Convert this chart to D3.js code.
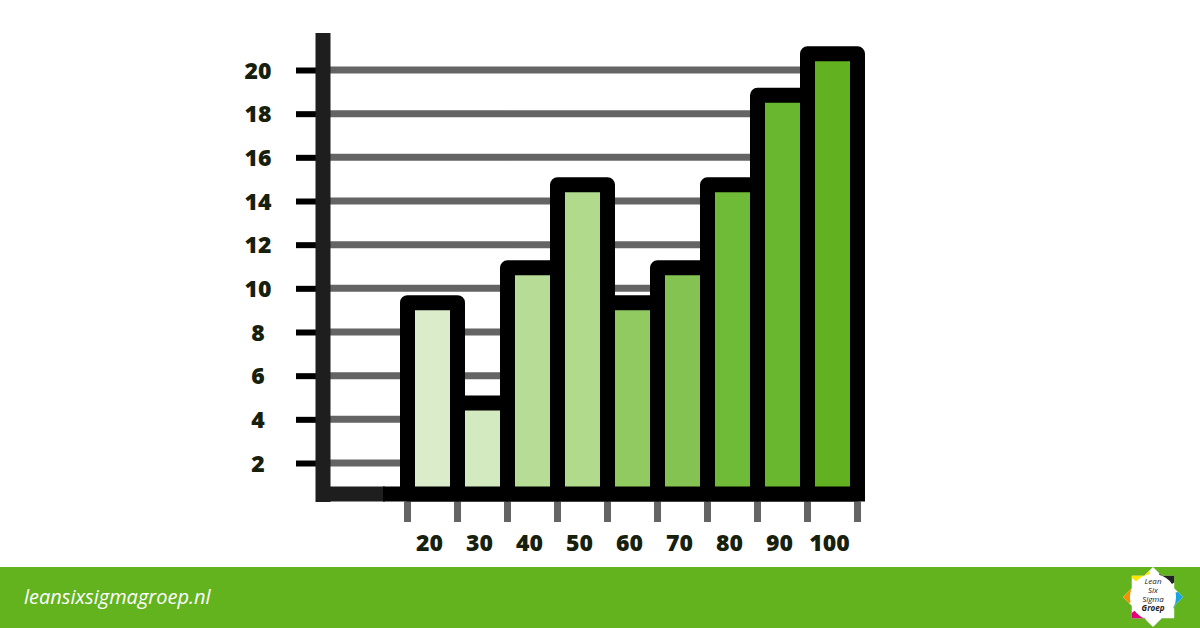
<!DOCTYPE html>
<html>
<head>
<meta charset="utf-8">
<script src="https://cdn.jsdelivr.net/npm/d3@7"></script>
<style>
  html, body { margin: 0; padding: 0; background: #fff; }
  svg { display: block; }
</style>
</head>
<body>
<div id="chart"></div>
<script>
const width = 1200;
const height = 628;

// data
const categories = ["20", "30", "40", "50", "60", "70", "80", "90", "100"];
const values = [9, 4.4, 10.6, 14.4, 9, 10.6, 14.4, 18.5, 20.4];
const barColors = ["#dbeccb", "#d3e9bf", "#b7dc95", "#b1da8c", "#92ca62", "#84c351", "#6fba37", "#69b72e", "#61b120"];
const yTicks = [2, 4, 6, 8, 10, 12, 14, 16, 18, 20];

const svg = d3.select("#chart")
  .append("svg")
  .attr("width", width)
  .attr("height", height);

const baseY = 494;
const stroke = 15;

const yScale = d3.scaleLinear()
  .domain([2, 20])
  .range([463, 70]);

const xScale = d3.scaleBand()
  .domain(categories)
  .range([407.5, 857.5])
  .padding(0);

// gridlines
svg.append("g")
  .selectAll("line")
  .data(yTicks)
  .enter()
  .append("line")
  .attr("x1", 327)
  .attr("x2", 858)
  .attr("y1", d => yScale(d))
  .attr("y2", d => yScale(d))
  .attr("stroke", "#646464")
  .attr("stroke-width", 7)
  .attr("stroke-linecap", "round");

// y axis: ticks + labels
const yAxis = d3.axisLeft(yScale)
  .tickValues(yTicks)
  .tickSize(22)
  .tickPadding(0)
  .tickFormat(d3.format("d"));

const yg = svg.append("g")
  .attr("transform", "translate(318,0)")
  .call(yAxis);
yg.select(".domain").remove();
yg.selectAll(".tick line")
  .attr("stroke", "#000")
  .attr("stroke-width", 6);
yg.selectAll(".tick text")
  .attr("x", -60)
  .attr("dy", "0.36em")
  .attr("text-anchor", "middle")
  .attr("fill", "#16200c")
  .style("font-family", "'Open Sans', sans-serif")
  .style("font-weight", "800")
  .style("font-size", "23px");

// vertical axis bar
svg.append("line")
  .attr("x1", 323).attr("x2", 323)
  .attr("y1", 33).attr("y2", 502)
  .attr("stroke", "#1e1e1e")
  .attr("stroke-width", 15);

// bottom axis bar
svg.append("line")
  .attr("x1", 316).attr("x2", 385)
  .attr("y1", baseY).attr("y2", baseY)
  .attr("stroke", "#1e1e1e")
  .attr("stroke-width", 15);
svg.append("line")
  .attr("x1", 383).attr("x2", 865)
  .attr("y1", baseY).attr("y2", baseY)
  .attr("stroke", "#000")
  .attr("stroke-width", 15);

// x ticks below the axis (at bar boundaries)
const boundaries = categories.map(c => xScale(c)).concat([xScale.range()[1]]);
svg.append("g")
  .selectAll("line")
  .data(boundaries)
  .enter()
  .append("line")
  .attr("x1", d => d)
  .attr("x2", d => d)
  .attr("y1", 501)
  .attr("y2", 522)
  .attr("stroke", "#646464")
  .attr("stroke-width", 7);

// bars
svg.append("g")
  .selectAll("rect")
  .data(values)
  .enter()
  .append("rect")
  .attr("x", (d, i) => xScale(categories[i]))
  .attr("y", d => yScale(d) - stroke / 2)
  .attr("width", xScale.bandwidth())
  .attr("height", d => baseY - yScale(d) + stroke / 2)
  .attr("fill", (d, i) => barColors[i])
  .attr("stroke", "#000")
  .attr("stroke-width", stroke)
  .attr("stroke-linejoin", "round");

// x labels
const xAxis = d3.axisBottom(xScale).tickSize(0).tickPadding(0);
const xg = svg.append("g")
  .attr("transform", "translate(-3,543)")
  .call(xAxis);
xg.select(".domain").remove();
xg.selectAll(".tick text")
  .attr("y", 0)
  .attr("dy", "0.36em")
  .attr("fill", "#16200c")
  .style("font-family", "'Open Sans', sans-serif")
  .style("font-weight", "800")
  .style("font-size", "23px");

// footer band
svg.append("rect")
  .attr("x", 0).attr("y", 567)
  .attr("width", width).attr("height", height - 567)
  .attr("fill", "#63b31f");

svg.append("text")
  .attr("x", 24).attr("y", 604)
  .attr("fill", "#fff")
  .style("font-family", "'Open Sans', sans-serif")
  .style("font-style", "italic")
  .style("font-size", "20px")
  .text("leansixsigmagroep.nl");

// logo
const logo = svg.append("g").attr("transform", "translate(1153,597)");
const starPts = d3.range(16).map(i => {
  const a = -Math.PI / 2 + i * Math.PI / 8;
  const r = i % 2 === 0 ? 30 : 23;
  return [r * Math.cos(a), r * Math.sin(a)];
});
const wedges = [
  { a0: -2.4, a1: -1.7, c: "#ffe600" },
  { a0: -1.3, a1: -0.6, c: "#222" },
  { a0: -0.2, a1: 0.5, c: "#1aa3e0" },
  { a0: 1.9, a1: 2.5, c: "#e6007e" },
  { a0: 2.9, a1: 3.5, c: "#f39200" }
];
const clip = logo.append("clipPath").attr("id", "starclip");
clip.append("polygon").attr("points", starPts.map(p => p.join(",")).join(" "));
logo.append("polygon")
  .attr("points", starPts.map(p => p.join(",")).join(" "))
  .attr("fill", "#fff");
logo.append("g")
  .attr("clip-path", "url(#starclip)")
  .selectAll("path")
  .data(wedges)
  .enter()
  .append("path")
  .attr("d", d => d3.arc().innerRadius(23).outerRadius(32).startAngle(d.a0 + Math.PI / 2).endAngle(d.a1 + Math.PI / 2)())
  .attr("fill", d => d.c);
const logoLines = ["Lean", "Six", "Sigma", "Groep"];
logo.selectAll("text.logo")
  .data(logoLines)
  .enter()
  .append("text")
  .attr("class", "logo")
  .attr("x", 0)
  .attr("y", (d, i) => -13 + i * 9)
  .attr("text-anchor", "middle")
  .attr("fill", "#222")
  .style("font-family", "'Open Sans', sans-serif")
  .style("font-style", "italic")
  .style("font-weight", (d, i) => i === 3 ? "700" : "400")
  .style("font-size", "8px")
  .text(d => d);
</script>
</body>
</html>
